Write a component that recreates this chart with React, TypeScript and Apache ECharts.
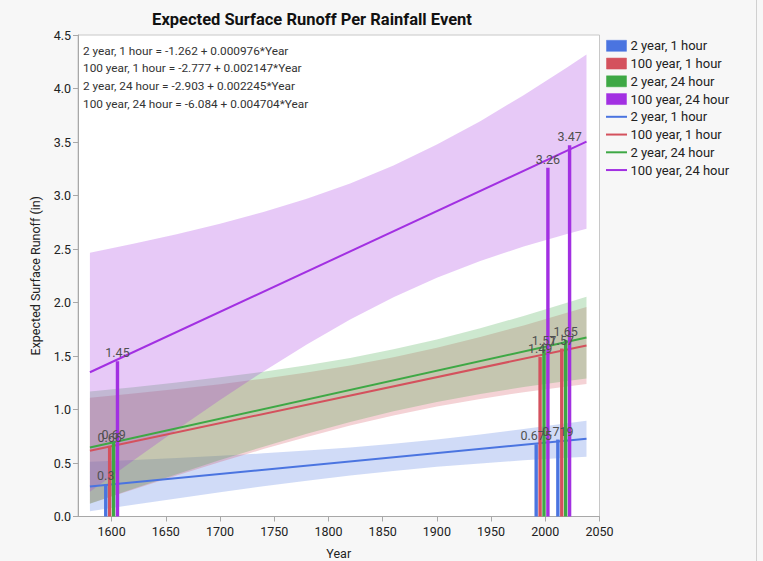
import React, { useEffect, useRef } from "react";
import * as echarts from "echarts";

const FONT = "Roboto, 'Noto Sans', sans-serif";

const seriesNames = ["2 year, 1 hour", "100 year, 1 hour", "2 year, 24 hour", "100 year, 24 hour"];
const colors = ["#4A74E0", "#D4515D", "#3EA845", "#A230E2"];

// bar data (observations)
const barYears = [1600, 1997, 2017];
const bar2yr1h = [0.3, 0.675, 0.719];
const bar100yr1h = [0.66, 1.49, 1.57];
const bar2yr24h = [0.69, 1.57, 1.65];
const bar100yr24h = [1.45, 3.26, 3.47];

// fitted lines
const lineYears = [1580, 2038];
const fit2yr1h = [0.28, 0.727];
const fit100yr1h = [0.615, 1.599];
const fit2yr24h = [0.644, 1.672];
const fit100yr24h = [1.348, 3.503];

// confidence bands
const bandYears = [1580, 1620, 1660, 1700, 1740, 1780, 1820, 1860, 1900, 1940, 1980, 2020, 2038];
const band2yr1hLower = [0.05, 0.11, 0.169, 0.227, 0.282, 0.334, 0.383, 0.426, 0.464, 0.496, 0.525, 0.549, 0.559];
const band2yr1hUpper = [0.511, 0.528, 0.547, 0.567, 0.59, 0.616, 0.645, 0.68, 0.72, 0.766, 0.817, 0.871, 0.895];
const band100yr1hLower = [0.121, 0.253, 0.383, 0.509, 0.63, 0.744, 0.85, 0.944, 1.027, 1.099, 1.162, 1.216, 1.239];
const band100yr1hUpper = [1.109, 1.149, 1.191, 1.237, 1.288, 1.346, 1.412, 1.488, 1.577, 1.677, 1.786, 1.904, 1.959];
const band2yr24hLower = [0.119, 0.259, 0.395, 0.527, 0.653, 0.773, 0.884, 0.984, 1.071, 1.145, 1.21, 1.267, 1.29];
const band2yr24hUpper = [1.169, 1.209, 1.253, 1.301, 1.353, 1.413, 1.482, 1.562, 1.655, 1.759, 1.874, 1.997, 2.054];
const band100yr24hLower = [0.231, 0.524, 0.811, 1.089, 1.356, 1.608, 1.841, 2.049, 2.232, 2.389, 2.523, 2.64, 2.689];
const band100yr24hUpper = [2.465, 2.55, 2.639, 2.737, 2.846, 2.97, 3.113, 3.281, 3.476, 3.695, 3.937, 4.196, 4.317];

const xTicks = [1600, 1650, 1700, 1750, 1800, 1850, 1900, 1950, 2000, 2050];

const equations = [
  "2 year, 1 hour = -1.262 + 0.000976*Year",
  "100 year, 1 hour = -2.777 + 0.002147*Year",
  "2 year, 24 hour = -2.903 + 0.002245*Year",
  "100 year, 24 hour = -6.084 + 0.004704*Year",
];

const title = "Expected Surface Runoff Per Rainfall Event";
const xName = "Year";
const yName = "Expected Surface Runoff (in)";

function rgba(hex: string, a: number) {
  const n = parseInt(hex.slice(1), 16);
  return `rgba(${(n >> 16) & 255},${(n >> 8) & 255},${n & 255},${a})`;
}

export default function App() {
  const ref = useRef<HTMLDivElement>(null);
  useEffect(() => {
    if (!ref.current) return;
    const chart = echarts.init(ref.current, null, { renderer: "svg" });
    const bars = [bar2yr1h, bar100yr1h, bar2yr24h, bar100yr24h];
    const fits = [fit2yr1h, fit100yr1h, fit2yr24h, fit100yr24h];
    const bands = [
      [band2yr1hLower, band2yr1hUpper],
      [band100yr1hLower, band100yr1hUpper],
      [band2yr24hLower, band2yr24hUpper],
      [band100yr24hLower, band100yr24hUpper],
    ];
    const series: any[] = [];
    bands.forEach(([lo, up], i) => {
      series.push({
        type: "custom",
        data: bandYears.map((y, j) => [y, lo[j], up[j]]),
        encode: { x: 0, y: [1, 2] },
        clip: true,
        silent: true,
        z: 1,
        renderItem: (params: any, api: any) => {
          if (params.dataIndex !== 0) return null;
          const pts: number[][] = [];
          for (let j = 0; j < bandYears.length; j++) pts.push(api.coord([bandYears[j], up[j]]));
          for (let j = bandYears.length - 1; j >= 0; j--) pts.push(api.coord([bandYears[j], lo[j]]));
          return {
            type: "polygon",
            shape: { points: pts },
            style: { fill: rgba(colors[i], 0.26), stroke: "none" },
          };
        },
      });
    });
    fits.forEach((f, i) => {
      series.push({
        type: "line",
        name: seriesNames[i] + " fit",
        data: lineYears.map((y, j) => [y, f[j]]),
        symbol: "none",
        lineStyle: { color: colors[i], width: 2 },
        z: 3,
      });
    });
    bars.forEach((b, i) => {
      series.push({
        type: "bar",
        name: seriesNames[i],
        data: barYears.map((y, j) => [y, b[j]]),
        barWidth: 3.4,
        barGap: "15%",
        itemStyle: { color: colors[i] },
        label: {
          show: true,
          position: "top",
          distance: 2,
          formatter: (p: any) => String(p.value[1]),
          color: "#505050",
          fontSize: 12.5,
          fontFamily: FONT,
        },
        z: 4,
      });
    });

    const graphic: any[] = [];
    equations.forEach((t, i) => {
      graphic.push({
        type: "text",
        x: 83,
        y: 50.7 + 17.6 * i,
        style: { text: t, fill: "#333", font: `11.8px ${FONT}`, textVerticalAlign: "middle" },
        z: 10,
      });
    });
    const legendRows = [
      ...seriesNames.map((n, i) => ({ n, c: colors[i], kind: "rect" })),
      ...seriesNames.map((n, i) => ({ n, c: colors[i], kind: "line" })),
    ];
    legendRows.forEach((r, k) => {
      const cy = 45.8 + 17.75 * k;
      if (r.kind === "rect") {
        graphic.push({
          type: "rect",
          shape: { x: 606.5, y: cy - 5.5, width: 20, height: 11 },
          style: { fill: r.c, stroke: r.c, lineWidth: 0.5 },
        });
      } else {
        graphic.push({
          type: "line",
          shape: { x1: 606, y1: cy, x2: 627, y2: cy },
          style: { stroke: r.c, lineWidth: 2 },
        });
      }
      graphic.push({
        type: "text",
        x: 630.5,
        y: cy,
        style: { text: r.n, fill: "#222", font: `13px ${FONT}`, textVerticalAlign: "middle" },
      });
    });
    graphic.push({
      type: "line",
      shape: { x1: 756.5, y1: 0, x2: 756.5, y2: 561 },
      style: { stroke: "#d0d0d0", lineWidth: 1 },
    });

    chart.setOption({
      animation: false,
      backgroundColor: "#f7f7f7",
      title: {
        text: title,
        left: 312,
        top: 11,
        textAlign: "center",
        padding: 0,
        textStyle: { fontSize: 16.5, fontWeight: "bold", color: "#111", fontFamily: FONT },
      },
      grid: {
        left: 78,
        right: 163.5,
        top: 35,
        bottom: 44.5,
        outerBoundsMode: "none",
        containLabel: false,
        show: true,
        backgroundColor: "#ffffff",
        borderColor: "#c8c8c8",
        borderWidth: 1,
      },
      xAxis: {
        type: "value",
        min: 1569,
        max: 2050,
        name: xName,
        nameLocation: "middle",
        nameGap: 30,
        nameTextStyle: { color: "#222", fontSize: 12.5, fontFamily: FONT },
        axisLine: { show: true, lineStyle: { color: "#a8a8a8" } },
        axisTick: { show: true, length: 5, customValues: xTicks, lineStyle: { color: "#a8a8a8" } },
        axisLabel: {
          customValues: xTicks,
          color: "#222",
          fontSize: 12.5,
          margin: 8,
          fontFamily: FONT,
          formatter: (v: number) => String(v),
        },
        splitLine: { show: false },
      },
      yAxis: {
        type: "value",
        min: 0,
        max: 4.5,
        interval: 0.5,
        name: yName,
        nameLocation: "middle",
        nameGap: 36,
        nameTextStyle: { color: "#222", fontSize: 12.5, fontFamily: FONT },
        axisLine: { show: true, lineStyle: { color: "#a8a8a8" } },
        axisTick: { show: true, length: 5, lineStyle: { color: "#a8a8a8" } },
        axisLabel: {
          color: "#222",
          fontSize: 12.5,
          margin: 7,
          fontFamily: FONT,
          formatter: (v: number) => v.toFixed(1),
        },
        splitLine: { show: false },
      },
      series,
      graphic,
    });
    return () => chart.dispose();
  }, []);
  return <div ref={ref} style={{ position: "fixed", left: 0, top: 0, width: 763, height: 561 }} />;
}
